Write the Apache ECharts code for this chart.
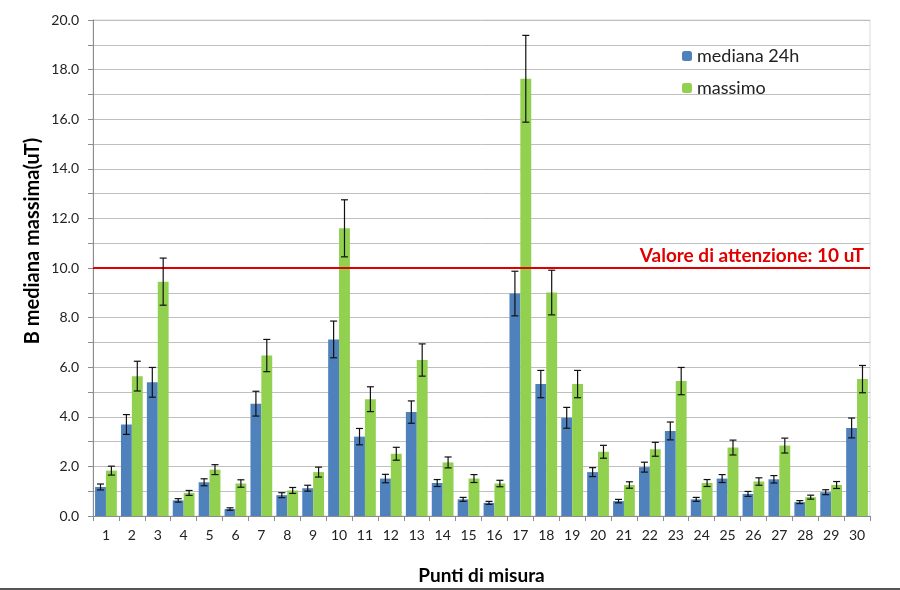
<!DOCTYPE html>
<html>
<head>
<meta charset="utf-8">
<script src="https://cdn.jsdelivr.net/npm/echarts@6/dist/echarts.min.js"></script>
<style>html,body{margin:0;padding:0;background:#fff}#c{width:900px;height:590px}</style>
</head>
<body>
<div id="c"></div>
<script>
const categories = ['1','2','3','4','5','6','7','8','9','10','11','12','13','14','15','16','17','18','19','20','21','22','23','24','25','26','27','28','29','30'];
const mediana = [1.17,3.69,5.39,0.63,1.36,0.28,4.53,0.84,1.12,7.12,3.2,1.51,4.19,1.33,0.67,0.53,8.97,5.32,3.96,1.77,0.6,1.97,3.43,0.67,1.51,0.89,1.48,0.56,0.96,3.55];
const massimo = [1.83,5.64,9.45,0.93,1.87,1.31,6.47,1.03,1.77,11.6,4.71,2.51,6.29,2.16,1.51,1.31,17.63,9.01,5.32,2.59,1.25,2.69,5.44,1.33,2.76,1.39,2.84,0.76,1.25,5.52];
const medianaErr = [0.12,0.4,0.6,0.07,0.14,0.05,0.5,0.1,0.12,0.74,0.33,0.17,0.45,0.14,0.08,0.06,0.9,0.55,0.42,0.18,0.07,0.2,0.36,0.08,0.16,0.1,0.15,0.06,0.1,0.4];
const massimoErr = [0.18,0.6,0.95,0.1,0.2,0.15,0.65,0.12,0.2,1.15,0.5,0.26,0.65,0.22,0.16,0.13,1.75,0.9,0.55,0.26,0.13,0.28,0.55,0.14,0.3,0.15,0.3,0.08,0.14,0.55];
const threshold = 10;

const FONT = 'Lato';
const GAP = 0.16;
function errSeries(vals, errs, side) {
  return {
    type: 'custom',
    z: 10,
    silent: true,
    data: vals.map((v, i) => [i, v, errs[i]]),
    encode: { x: 0, y: 1 },
    renderItem: function (params, api) {
      const i = api.value(0), v = api.value(1), e = api.value(2);
      const band = api.size([1, 0])[0];
      const bw = band * (1 - GAP) / 2;
      const cx = api.coord([i, v])[0] + side * bw / 2;
      const top = api.coord([i, v + e])[1];
      const bot = api.coord([i, v - e])[1];
      const st = { stroke: '#111', lineWidth: 1.2 };
      return { type: 'group', children: [
        { type: 'line', shape: { x1: cx, y1: top, x2: cx, y2: bot }, style: st },
        { type: 'line', shape: { x1: cx - 3.5, y1: top, x2: cx + 3.5, y2: top }, style: st },
        { type: 'line', shape: { x1: cx - 3.5, y1: bot, x2: cx + 3.5, y2: bot }, style: st }
      ]};
    }
  };
}

const chart = echarts.init(document.getElementById('c'));
chart.setOption({
  animation: false,
  textStyle: { fontFamily: FONT },
  grid: { left: 93, right: 30, top: 20, bottom: 70, show: true, borderColor: '#d9d9d9', borderWidth: 1 },
  legend: {
    orient: 'vertical', left: 677, top: 42, itemWidth: 10, itemHeight: 10, itemGap: 14,
    textStyle: { fontFamily: FONT, fontSize: 18, color: '#222' },
    data: ['mediana 24h', 'massimo']
  },
  xAxis: {
    type: 'category', data: categories,
    name: 'Punti di misura', nameLocation: 'middle', nameGap: 50,
    nameTextStyle: { fontFamily: FONT, fontSize: 19, fontWeight: 'bold', color: '#000' },
    axisLine: { lineStyle: { color: '#8c8c8c' } },
    axisTick: { show: true, length: 5, lineStyle: { color: '#8c8c8c' } },
    axisLabel: { fontFamily: FONT, fontSize: 14, color: '#222', margin: 12 }
  },
  yAxis: {
    type: 'value', min: 0, max: 20, interval: 1,
    axisLine: { show: true, lineStyle: { color: '#8c8c8c' } },
    axisTick: { show: true, length: 5, lineStyle: { color: '#8c8c8c' } },
    axisLabel: { fontFamily: FONT, fontSize: 14, color: '#222', margin: 14,
      formatter: v => (v % 2 === 0 ? v.toFixed(1) : '') },
    splitLine: { lineStyle: { color: '#bfbfbf' } }
  },
  series: [
    { name: 'mediana 24h', type: 'bar', data: mediana, barGap: '0%', barCategoryGap: '16%',
      itemStyle: { color: '#4F81BD' },
      markLine: {
        silent: true, symbol: 'none',
        lineStyle: { color: '#E00000', width: 2, type: 'solid' },
        label: { position: 'insideEndTop', formatter: 'Valore di attenzione: 10 uT', color: '#E00000',
          fontFamily: FONT, fontSize: 19, fontWeight: 'bold', distance: [6, 3] },
        data: [{ yAxis: threshold }]
      } },
    { name: 'massimo', type: 'bar', data: massimo, barGap: '0%', barCategoryGap: '16%',
      itemStyle: { color: '#92D050' } },
    errSeries(mediana, medianaErr, -1),
    errSeries(massimo, massimoErr, 1)
  ],
  graphic: [
    { type: 'text', x: 33, y: 241, rotation: Math.PI / 2,
      style: { text: 'B mediana massima(uT)', fontFamily: FONT, fontSize: 20, fontWeight: 'bold', fill: '#000',
        align: 'center', verticalAlign: 'middle' } },
    { type: 'line', shape: { x1: 0, y1: 589, x2: 900, y2: 589 }, style: { stroke: '#555', lineWidth: 2 } }
  ]
});
</script>
</body>
</html>
